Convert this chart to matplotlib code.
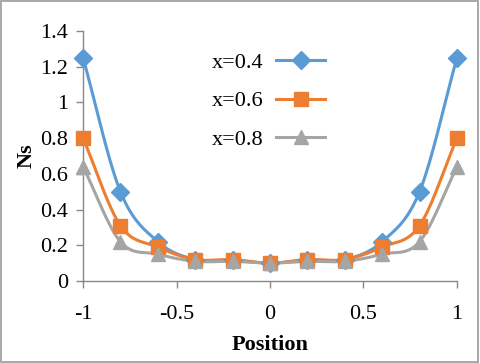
import numpy as np
import matplotlib
matplotlib.use('Agg')
import matplotlib.pyplot as plt
from matplotlib.lines import Line2D

# 数据
position = [-1, -0.8, -0.6, -0.4, -0.2, 0, 0.2, 0.4, 0.6, 0.8, 1]
ns_04 = [1.25, 0.50, 0.22, 0.12, 0.115, 0.10, 0.115, 0.12, 0.22, 0.50, 1.25]
ns_06 = [0.80, 0.31, 0.19, 0.12, 0.12, 0.10, 0.12, 0.12, 0.19, 0.31, 0.80]
ns_08 = [0.64, 0.22, 0.15, 0.11, 0.11, 0.10, 0.11, 0.11, 0.15, 0.22, 0.64]
labels = ['x=0.4', 'x=0.6', 'x=0.8']
colors = ['#5B9BD5', '#ED7D31', '#A5A5A5']
markers = ['D', 's', '^']
msizes = [9, 10, 10]


# 类似Excel的平滑曲线 (Catmull-Rom)
def smooth(xs, ys, n=20):
    xs = np.asarray(xs, float)
    ys = np.asarray(ys, float)
    px = np.concatenate([[2 * xs[0] - xs[1]], xs, [2 * xs[-1] - xs[-2]]])
    py = np.concatenate([[2 * ys[0] - ys[1]], ys, [2 * ys[-1] - ys[-2]]])
    out_x, out_y = [], []
    t = np.linspace(0, 1, n)
    for i in range(1, len(px) - 2):
        for p, out in ((px, out_x), (py, out_y)):
            p0, p1, p2, p3 = p[i - 1], p[i], p[i + 1], p[i + 2]
            seg = 0.5 * (2 * p1 + (-p0 + p2) * t + (2 * p0 - 5 * p1 + 4 * p2 - p3) * t ** 2
                         + (-p0 + 3 * p1 - 3 * p2 + p3) * t ** 3)
            out.extend(seg)
    return out_x, out_y


plt.rcParams['font.family'] = ['Liberation Serif', 'DejaVu Serif']

fig = plt.figure(figsize=(4.8, 3.63), dpi=100)
ax = fig.add_axes([0.173, 0.226, 0.779, 0.689])

handles = []
for ys, lab, c, m, ms in zip([ns_04, ns_06, ns_08], labels, colors, markers, msizes):
    sx, sy = smooth(position, ys)
    ax.plot(sx, sy, color=c, lw=2.2, zorder=2, clip_on=False)
    ax.plot(position, ys, ls='none', marker=m, ms=ms, color=c, zorder=3, clip_on=False)
    handles.append(Line2D([], [], color=c, lw=2.2, marker=m, ms=ms, label=lab))

ax.set_xlim(-1, 1)
ax.set_ylim(0, 1.4)
ax.set_xticks([-1, -0.5, 0, 0.5, 1])
ax.set_xticklabels(['-1', '-0.5', '0', '0.5', '1'])
ax.set_yticks(np.arange(0, 1.41, 0.2))
ax.set_yticklabels(['0', '0.2', '0.4', '0.6', '0.8', '1', '1.2', '1.4'])
ax.tick_params(labelsize=16, colors='#888888', labelcolor='black', length=5, width=1)
ax.tick_params(axis='x', pad=12)
ax.tick_params(axis='y', pad=6)
for s in ['top', 'right']:
    ax.spines[s].set_visible(False)
for s in ['left', 'bottom']:
    ax.spines[s].set_color('#888888')
    ax.spines[s].set_linewidth(1)

ax.set_xlabel('Position', fontsize=16, fontweight='bold', labelpad=8)
ax.set_ylabel('Ns', fontsize=16, fontweight='bold', labelpad=2)

ax.legend(handles=handles, loc='upper left', bbox_to_anchor=(0.29, 0.995), frameon=False,
          markerfirst=False, fontsize=16, handlelength=2.2, labelspacing=0.82, handletextpad=0.6)

# 图片边框
fig.patches.append(plt.Rectangle((0.003, 0.004), 0.993, 0.992, transform=fig.transFigure,
                                 fill=False, edgecolor='#999999', lw=1.2))

plt.savefig('out.png', dpi=100)
